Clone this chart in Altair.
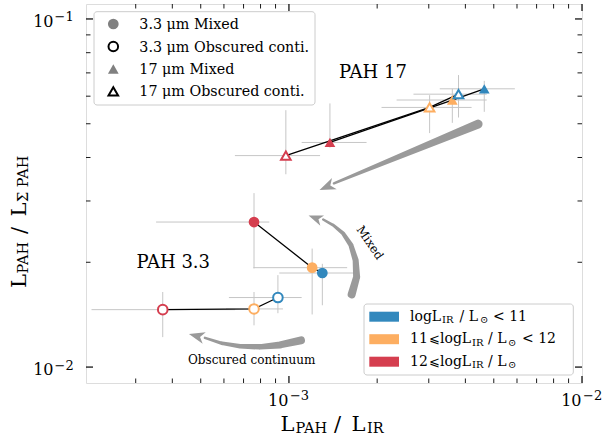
import altair as alt
import pandas as pd

SERIF = "DejaVu Serif"
ERR = "#c6c6c6"
ARROW = "#9a9a9a"

# colour bins: logL_IR/Lsun < 11, 11-12, >= 12
bins = ["lt11", "11to12", "ge12"]
bin_colors = ["#3288bd", "#fdae61", "#d53e4f"]

# PAH 3.3 um, Mixed
m33_x = [1.30e-3, 1.20e-3, 7.6e-4]
m33_y = [0.01863, 0.0193, 0.0261]
m33_xlo = [9.27e-4, 7.56e-4, 3.52e-4]
m33_xhi = [1.70e-3, 1.58e-3, 8.57e-4]
m33_ylo = [0.01505, 0.01416, 0.0192]
m33_yhi = [0.0198, 0.0219, 0.0316]
# PAH 3.3 um, Obscured continuum
o33_x = [9.17e-4, 7.6e-4, 3.71e-4]
o33_y = [0.01584, 0.01469, 0.01462]
o33_xlo = [6.24e-4, 6.1e-4, 2.12e-4]
o33_xhi = [1.105e-3, 9.54e-4, 6.55e-4]
o33_ylo = [0.01428, 0.01318, 0.01219]
o33_yhi = [0.01837, 0.01643, 0.01643]
# PAH 17 um, Mixed
m17_x = [4.64e-3, 3.61e-3, 1.38e-3]
m17_y = [0.0630, 0.0585, 0.04418]
m17_xlo = [3.27e-3, 2.33e-3, 1.105e-3]
m17_xhi = [5.9e-3, 4.73e-3, 1.84e-3]
m17_ylo = [0.0541, 0.0503, 0.0427]
m17_yhi = [0.0664, 0.063, 0.0572]
# PAH 17 um, Obscured continuum
o17_x = [3.79e-3, 3.02e-3, 9.76e-4]
o17_y = [0.0608, 0.0557, 0.0405]
o17_xlo = [2.66e-3, 2.07e-3, 6.54e-4]
o17_xhi = [4.73e-3, 4.2e-3, 1.277e-3]
o17_ylo = [0.0521, 0.047, 0.0358]
o17_yhi = [0.069, 0.0604, 0.0547]

# annotation arrows (data coordinates) and their widths
arr1_x = [4.42e-3, 1.424e-3]
arr1_y = [0.0499, 0.0337]
arr1_w = [9, 2.5]
arr2_x = [1.637e-3, 1.702e-3, 1.689e-3, 1.628e-3, 1.532e-3, 1.416e-3, 1.309e-3]
arr2_y = [0.01618, 0.01815, 0.02027, 0.02239, 0.02419, 0.02556, 0.02654]
arr2_w = [8, 7, 6, 5, 4, 3, 2.5]
arr3_x = [1.099e-3, 9.32e-4, 7.96e-4, 6.81e-4, 5.91e-4, 5.17e-4]
arr3_y = [0.01193, 0.01158, 0.01143, 0.01147, 0.01170, 0.01213]
arr3_w = [8, 7, 5.5, 4.5, 3.5, 2.5]
heads_x = [1.348e-3, 1.231e-3, 4.84e-4]
heads_y = [0.03295, 0.02679, 0.01228]

# axis ticks and tick labels (10^n)
x_major = [1e-3, 1e-2]
x_major_exp = ["−3", "−2"]
x_minor = [3e-4, 4e-4, 5e-4, 6e-4, 7e-4, 8e-4, 9e-4,
           2e-3, 3e-3, 4e-3, 5e-3, 6e-3, 7e-3, 8e-3, 9e-3]
y_major = [0.01, 0.1]
y_major_exp = ["−2", "−1"]
y_minor = [0.02, 0.03, 0.04, 0.05, 0.06, 0.07, 0.08, 0.09]

W, H = 496, 379

rows = []
def add(group, xs, ys, xlo, xhi, ylo, yhi):
    for i in range(3):
        rows.append(dict(grp=group, bin=bins[i], ord=i, x=xs[i], y=ys[i],
                         xlo=xlo[i], xhi=xhi[i], ylo=ylo[i], yhi=yhi[i]))

add("m33", m33_x, m33_y, m33_xlo, m33_xhi, m33_ylo, m33_yhi)
add("o33", o33_x, o33_y, o33_xlo, o33_xhi, o33_ylo, o33_yhi)
add("m17", m17_x, m17_y, m17_xlo, m17_xhi, m17_ylo, m17_yhi)
add("o17", o17_x, o17_y, o17_xlo, o17_xhi, o17_ylo, o17_yhi)
df = pd.DataFrame(rows)

xscale = alt.Scale(type="log", domain=[2.03e-4, 1e-2], nice=False)
yscale = alt.Scale(type="log", domain=[0.009, 0.1104], nice=False)

def X(f):
    return alt.X(f, type="quantitative", scale=xscale, axis=None)

def Y(f):
    return alt.Y(f, type="quantitative", scale=yscale, axis=None)

cscale = alt.Scale(domain=bins, range=bin_colors)

layers = []
base = alt.Chart(df)
layers.append(base.mark_rule(color=ERR, strokeWidth=1).encode(x=X("xlo"), x2="xhi", y=Y("y")))
layers.append(base.mark_rule(color=ERR, strokeWidth=1).encode(x=X("x"), y=Y("ylo"), y2="yhi"))
layers.append(base.mark_line(color="black", strokeWidth=1.3).encode(
    x=X("x"), y=Y("y"), detail="grp:N", order=alt.Order("ord:Q")))

def markers(group, shape, filled, size):
    d = base.transform_filter(alt.datum.grp == group)
    if filled:
        m = d.mark_point(shape=shape, filled=True, opacity=1, size=size).encode(
            x=X("x"), y=Y("y"), color=alt.Color("bin:N", scale=cscale, legend=None))
    else:
        m = d.mark_point(shape=shape, filled=False, fill="white", fillOpacity=1,
                         opacity=1, strokeWidth=2, size=size).encode(
            x=X("x"), y=Y("y"), stroke=alt.Stroke("bin:N", scale=cscale, legend=None))
    return m

layers.append(markers("m33", "circle", True, 115))
layers.append(markers("o33", "circle", False, 92))
layers.append(markers("m17", "triangle-up", True, 115))
layers.append(markers("o17", "triangle-up", False, 92))

# arrows
arr_rows = []
for name, xs, ys, ws in [("a1", arr1_x, arr1_y, arr1_w), ("a2", arr2_x, arr2_y, arr2_w),
                         ("a3", arr3_x, arr3_y, arr3_w)]:
    for i in range(len(xs)):
        arr_rows.append(dict(arrow=name, i=i, x=xs[i], y=ys[i], w=ws[i]))
adf = pd.DataFrame(arr_rows)
layers.append(alt.Chart(adf).mark_trail(color=ARROW, opacity=1).encode(
    x=X("x"), y=Y("y"), size=alt.Size("w:Q", scale=None, legend=None),
    detail="arrow:N", order=alt.Order("i:Q")))
HEAD = "M0,-1L0.75,1L0,0.45L-0.75,1Z"
for i, (ang, sz) in enumerate([(247, 260), (290, 210), (285, 250)]):
    hd = pd.DataFrame({"x": [heads_x[i]], "y": [heads_y[i]]})
    layers.append(alt.Chart(hd).mark_point(shape=HEAD, angle=ang, size=sz, filled=True,
                                           color=ARROW, opacity=1).encode(x=X("x"), y=Y("y")))

# in-plot annotations (data coordinates)
def dtext(s, x, y, size, angle=0):
    kw = dict(text=s, font=SERIF, fontSize=size, align="center", baseline="middle", color="black")
    if angle:
        kw["angle"] = angle
    return alt.Chart(pd.DataFrame({"x": [x], "y": [y]})).mark_text(**kw).encode(x=X("x"), y=Y("y"))

layers.append(dtext("PAH 17", 1.935e-3, 0.0699, 18))
layers.append(dtext("PAH 3.3", 4.03e-4, 0.01987, 18))
layers.append(dtext("Mixed", 1.89e-3, 0.02276, 12, 56))
layers.append(dtext("Obscured continuum", 7.46e-4, 0.0105, 12))

# inward ticks on all four sides
def tickrules(vals, axis, length, width):
    t = alt.Chart(pd.DataFrame({"v": vals}))
    out = []
    if axis == "x":
        out.append(t.mark_rule(color="black", strokeWidth=width).encode(
            x=X("v"), y=alt.value(H), y2=alt.value(H - length)))
        out.append(t.mark_rule(color="black", strokeWidth=width).encode(
            x=X("v"), y=alt.value(0), y2=alt.value(length)))
    else:
        out.append(t.mark_rule(color="black", strokeWidth=width).encode(
            y=Y("v"), x=alt.value(0), x2=alt.value(length)))
        out.append(t.mark_rule(color="black", strokeWidth=width).encode(
            y=Y("v"), x=alt.value(W - length), x2=alt.value(W)))
    return out

layers += tickrules(x_major, "x", 7, 1.2)
layers += tickrules(x_minor, "x", 4.5, 0.9)
layers += tickrules(y_major, "y", 7, 1.2)
layers += tickrules(y_minor, "y", 4.5, 0.9)

# tick labels "10" with superscript exponent
xl = alt.Chart(pd.DataFrame({"v": x_major, "e": x_major_exp}))
layers.append(xl.mark_text(text="10", font=SERIF, fontSize=16, align="right",
                           baseline="alphabetic", dx=-0.5, color="black").encode(
    x=X("v"), y=alt.value(401.5)))
layers.append(xl.mark_text(font=SERIF, fontSize=13, align="left",
                           baseline="alphabetic", dx=1, color="black").encode(
    x=X("v"), y=alt.value(396), text="e:N"))
yl = alt.Chart(pd.DataFrame({"v": y_major, "e": y_major_exp}))
layers.append(yl.mark_text(text="10", font=SERIF, fontSize=16, align="right",
                           baseline="alphabetic", dy=7.7, color="black").encode(
    y=Y("v"), x=alt.value(-32.5)))
layers.append(yl.mark_text(font=SERIF, fontSize=13, align="left",
                           baseline="alphabetic", dy=2.5, color="black").encode(
    y=Y("v"), x=alt.value(-31.5), text="e:N"))

dummy = pd.DataFrame({"d": [0]})

def T(s, x, y, size, angle=0, align="left", baseline="alphabetic"):
    kw = dict(text=s, font=SERIF, fontSize=size, align=align, baseline=baseline, color="black")
    if angle:
        kw["angle"] = angle
    return alt.Chart(dummy).mark_text(**kw).encode(x=alt.value(x), y=alt.value(y))

def box(x1, x2, y1, y2):
    return alt.Chart(dummy).mark_rect(fill="white", fillOpacity=0.85, stroke="#cccccc",
                                      strokeWidth=1, cornerRadius=3).encode(
        x=alt.value(x1), x2=alt.value(x2), y=alt.value(y1), y2=alt.value(y2))

# marker legend (top left)
layers.append(box(8, 229, 7.7, 101))
leg1_labels = ["3.3 μm Mixed", "3.3 μm Obscured conti.", "17 μm Mixed", "17 μm Obscured conti."]
leg1_y = [20, 42.5, 65, 87.3]
leg1_marks = [("circle", True), ("circle", False), ("triangle-up", True), ("triangle-up", False)]
for lab, yy, (shp, fil) in zip(leg1_labels, leg1_y, leg1_marks):
    if fil:
        mk = alt.Chart(dummy).mark_point(shape=shp, filled=True, color="#808080", opacity=1, size=115)
    else:
        mk = alt.Chart(dummy).mark_point(shape=shp, filled=False, fill="white", fillOpacity=1,
                                          stroke="black", strokeWidth=2, opacity=1, size=92)
    layers.append(mk.encode(x=alt.value(27.3), y=alt.value(yy)))
    layers.append(T(lab, 53.3, yy + 5, 14.3))

# colour legend (bottom right)
layers.append(box(278, 487.3, 300, 371))
leg2_y = [312.7, 335.2, 357.7]
for c, yy in zip(bin_colors, leg2_y):
    layers.append(alt.Chart(dummy).mark_rect(fill=c).encode(
        x=alt.value(283.3), x2=alt.value(313), y=alt.value(yy - 5), y2=alt.value(yy + 5)))
leg2_pieces = [
    [("logL", 324, 0), ("IR", 356, 1), ("/ L", 373.5, 0), ("⊙", 394, 1), ("<  11", 407, 0)],
    [("11", 324, 0), ("⩽", 342.5, 2), ("logL", 354, 0), ("IR", 386, 1), ("/ L", 402, 0),
     ("⊙", 422, 1), ("<  12", 436, 0)],
    [("12", 324, 0), ("⩽", 342.5, 2), ("logL", 354, 0), ("IR", 386, 1), ("/ L", 402, 0),
     ("⊙", 422, 1)],
]
for pieces, yy in zip(leg2_pieces, leg2_y):
    for s, xx, kind in pieces:
        if kind == 1:
            layers.append(T(s, xx, yy + 6.5, 10))
        elif kind == 2:
            layers.append(T(s, xx, yy + 4, 12.5))
        else:
            layers.append(T(s, xx, yy + 4, 14))

# axis titles with subscripts
layers.append(T("L", 194.5, 426.7, 21))
layers.append(T("PAH", 209.5, 428.5, 14.5))
layers.append(T("/", 248, 426.7, 21))
layers.append(T("L", 265.5, 426.7, 21))
layers.append(T("IR", 281, 428.5, 14.5))

layers.append(T("L", -60.3, 284, 21, angle=270))
layers.append(T("PAH", -58.5, 269.5, 14.5, angle=270))
layers.append(T("/", -60.3, 230, 21, angle=270))
layers.append(T("L", -60.3, 212.5, 21, angle=270))
layers.append(T("Σ PAH", -58.5, 198, 14.5, angle=270))

chart = alt.layer(*layers).properties(
    width=W, height=H,
    padding={"left": 86, "top": 4, "right": 20, "bottom": 57},
    autosize=alt.AutoSizeParams(type="none"),
).configure_view(stroke="black", strokeWidth=2).configure(font=SERIF)

chart.save("out.html", embed_options={"renderer": "svg", "actions": False})
